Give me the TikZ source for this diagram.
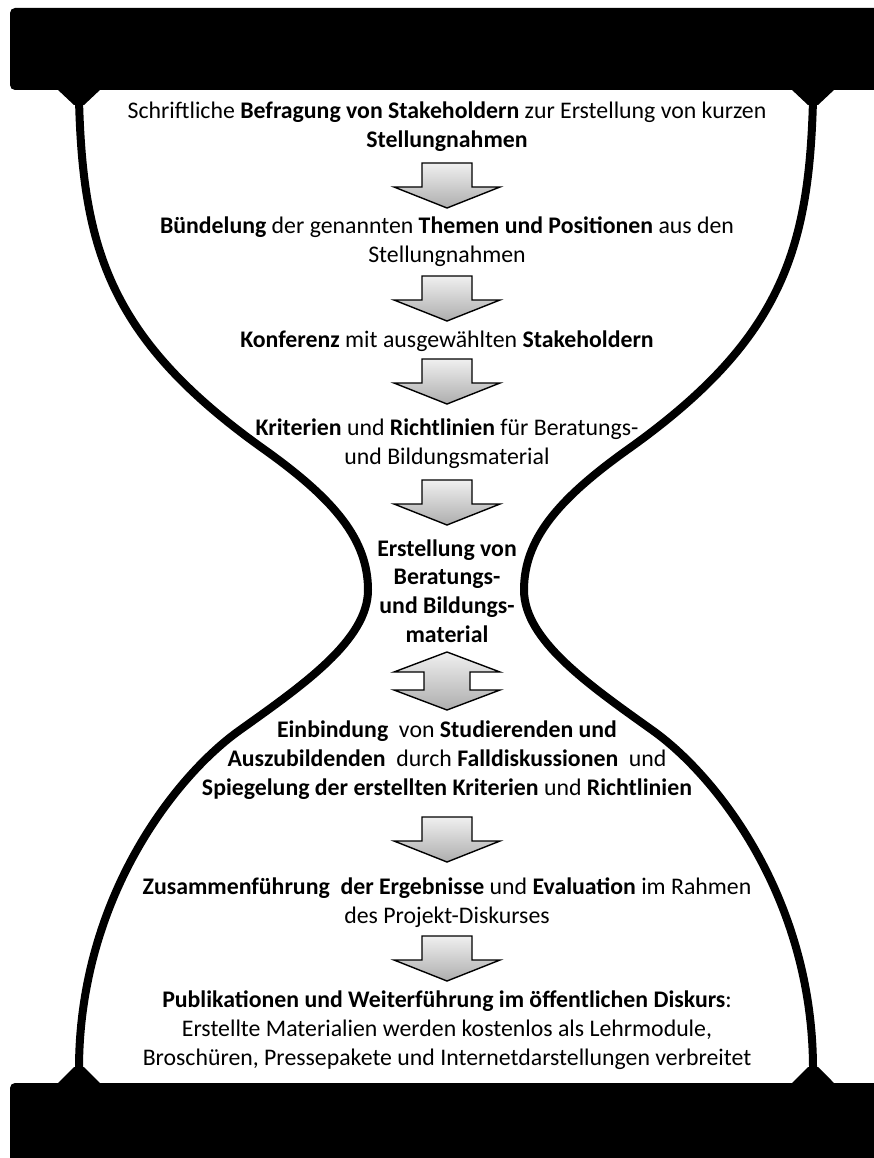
\documentclass[tikz,border=0pt]{standalone}
\usepackage{fontspec}
\setmainfont{Carlito}
\begin{document}
\begin{tikzpicture}[x=1pt,y=-1pt,
  bar/.style={fill=black,rounded corners=5pt},
  glass/.style={line width=8pt,black},
  blockarrow/.style={draw=black,line width=1.4pt,line join=miter,top color=black!6,bottom color=black!32},
  txt/.style={align=center,font=\fontsize{23.8}{28.8}\selectfont,inner sep=0pt},
  downarrow/.pic={\path[blockarrow] (-25,0) -- (25,0) -- (25,24) -- (53,24) -- (0,45) -- (-53,24) -- (-25,24) -- cycle;},
  updownarrow/.pic={\path[blockarrow] (0,0) -- (53,20) -- (23,20) -- (23,38) -- (53,38) -- (0,58) -- (-53,38) -- (-23,38) -- (-23,20) -- (-53,20) -- cycle;}
]
\clip (0,0) rectangle (874,1158);
\fill[white] (0,0) rectangle (874,1158);
% bars
\path[bar] (10,8) rectangle (890,90);
\path[bar] (10,1083) rectangle (890,1175);
% necks
\fill (57,89) -- (101,89) -- (84,105) -- (74,105) -- cycle;
\fill (791,89) -- (835,89) -- (818,105) -- (808,105) -- cycle;
\fill (57,1084) -- (101,1084) -- (84,1067) -- (74,1067) -- cycle;
\fill (791,1084) -- (835,1084) -- (818,1067) -- (808,1067) -- cycle;
% hourglass curves
\draw[glass] (79,100) .. controls (83,250) and (110,340) .. (265,450)
  .. controls (335,500) and (368,540) .. (368,590)
  .. controls (368,640) and (303,685) .. (240,730)
  .. controls (175,776) and (78,900) .. (79,1072);
\draw[glass] (813,100) .. controls (809,250) and (782,340) .. (627,450)
  .. controls (557,500) and (524,540) .. (524,590)
  .. controls (524,640) and (589,685) .. (652,730)
  .. controls (717,776) and (814,900) .. (813,1072);
% arrows
\pic (a1) at (447,163) {downarrow};
\pic (a2) at (447,276) {downarrow};
\pic (a3) at (447,359) {downarrow};
\pic (a4) at (447,480) {downarrow};
\pic (a5) at (447,652) {updownarrow};
\pic (a6) at (447,817) {downarrow};
\pic (a7) at (447,936) {downarrow};
% texts
\node[txt] (t1) at (447,127) {Schriftliche \textbf{Befragung von Stakeholdern} zur Erstellung von kurzen\\\textbf{Stellungnahmen}};
\node[txt] (t2) at (447,242) {\textbf{Bündelung} der genannten \textbf{Themen und Positionen} aus den\\Stellungnahmen};
\node[txt] (t3) at (447,341) {\textbf{Konferenz} mit ausgewählten \textbf{Stakeholdern}};
\node[txt] (t4) at (447,444) {\textbf{Kriterien} und \textbf{Richtlinien} für Beratungs-\\und Bildungsmaterial};
\node[txt] (t5) at (447,591) {\textbf{Erstellung von}\\\textbf{Beratungs-}\\\textbf{und Bildungs-}\\\textbf{material}};
\node[txt] (t6) at (447,760) {\textbf{Einbindung}\ \ von \textbf{Studierenden und}\\\textbf{Auszubildenden}\ \ durch \textbf{Falldiskussionen}\ \ und\\\textbf{Spiegelung der erstellten Kriterien} und \textbf{Richtlinien}};
\node[txt] (t7) at (447,903) {\textbf{Zusammenführung\ \ der Ergebnisse} und \textbf{Evaluation} im Rahmen\\des Projekt-Diskurses};
\node[txt] (t8) at (447,1030) {\textbf{Publikationen und Weiterführung im öffentlichen Diskurs}:\\Erstellte Materialien werden kostenlos als Lehrmodule,\\Broschüren, Pressepakete und Internetdarstellungen verbreitet};
\end{tikzpicture}
\end{document}
